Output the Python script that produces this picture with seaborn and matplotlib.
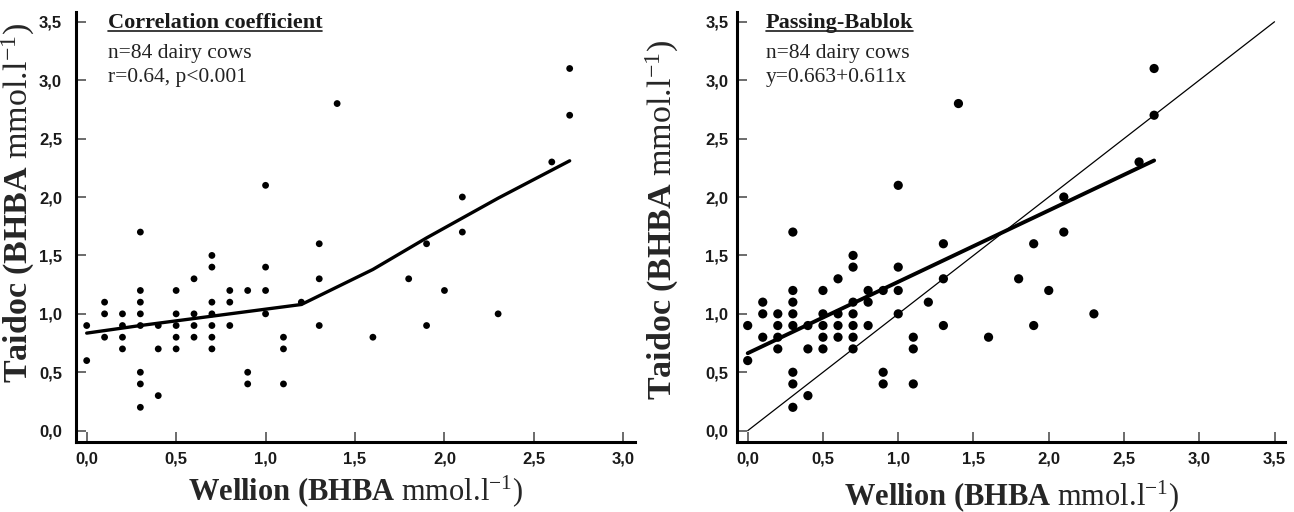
import matplotlib as mpl
import matplotlib.pyplot as plt
import seaborn as sns
from matplotlib.ticker import FuncFormatter, MultipleLocator

# --- data (mmol/l) ---
wellion = [
    0.0, 0.0,
    0.1, 0.1, 0.1,
    0.2, 0.2, 0.2, 0.2,
    0.3, 0.3, 0.3, 0.3, 0.3, 0.3, 0.3, 0.3,
    0.4, 0.4, 0.4,
    0.5, 0.5, 0.5, 0.5, 0.5,
    0.6, 0.6, 0.6, 0.6,
    0.7, 0.7, 0.7, 0.7, 0.7, 0.7, 0.7,
    0.8, 0.8, 0.8,
    0.9, 0.9, 0.9,
    1.0, 1.0, 1.0, 1.0,
    1.1, 1.1, 1.1,
    1.2,
    1.3, 1.3, 1.3,
    1.4, 1.6, 1.8, 1.9, 1.9, 2.0, 2.1, 2.1, 2.3, 2.6, 2.7, 2.7,
]
taidoc = [
    0.9, 0.6,
    1.1, 1.0, 0.8,
    1.0, 0.9, 0.8, 0.7,
    1.7, 1.2, 1.1, 1.0, 0.9, 0.5, 0.4, 0.2,
    0.9, 0.7, 0.3,
    1.2, 1.0, 0.9, 0.8, 0.7,
    1.3, 1.0, 0.9, 0.8,
    1.5, 1.4, 1.1, 1.0, 0.9, 0.8, 0.7,
    1.2, 1.1, 0.9,
    1.2, 0.5, 0.4,
    2.1, 1.4, 1.2, 1.0,
    0.8, 0.7, 0.4,
    1.1,
    1.6, 1.3, 0.9,
    2.8, 0.8, 1.3, 1.6, 0.9, 1.2, 2.0, 1.7, 1.0, 2.3, 2.7, 3.1,
]

# smoothed curve of the left panel
smooth_x = [0.0, 0.3, 0.6, 0.8, 1.0, 1.2, 1.6, 1.9, 2.3, 2.7]
smooth_y = [0.835, 0.90, 0.96, 1.0, 1.04, 1.08, 1.38, 1.65, 1.99, 2.31]

# Passing-Bablok fit and identity line
pb_intercept, pb_slope = 0.663, 0.611
pb_x = [0.0, 2.7]
pb_y = [pb_intercept + pb_slope * v for v in pb_x]
identity = [0.0, 3.5]

left_texts = ["Correlation coefficient", "n=84 dairy cows", "r=0.64, p<0.001"]
right_texts = ["Passing-Bablok", "n=84 dairy cows", "y=0.663+0.611x"]

sns.set_theme(style="ticks")
plt.rcParams.update({
    "font.family": ["Liberation Serif", "DejaVu Serif"],
    "mathtext.fontset": "custom",
    "mathtext.rm": "Liberation Serif",
    "mathtext.bf": "Liberation Serif:bold",
    "mathtext.it": "Liberation Serif:italic",
})

xlabel = r"$\mathbf{Wellion\ (BHBA}$ mmol.l$^{-1}$)"
ylabel = r"$\mathbf{Taidoc\ (BHBA}$ mmol.l$^{-1}$)"

fig = plt.figure(figsize=(12.94, 5.12), dpi=100)
ax1 = fig.add_axes([0.0587, 0.1367, 0.432, 0.8404])
ax2 = fig.add_axes([0.5698, 0.1367, 0.4233, 0.8404])

comma = FuncFormatter(lambda v, p: f"{v:.1f}".replace(".", ","))


def style_axis(ax, ytick_pad):
    for side in ["top", "right"]:
        ax.spines[side].set_visible(False)
    for side in ["left", "bottom"]:
        ax.spines[side].set_linewidth(2.2)
        ax.spines[side].set_color("black")
    ax.set_ylim(-0.097, 3.586)
    ax.xaxis.set_major_locator(MultipleLocator(0.5))
    ax.yaxis.set_major_locator(MultipleLocator(0.5))
    ax.xaxis.set_major_formatter(comma)
    ax.yaxis.set_major_formatter(comma)
    ax.tick_params(direction="in", length=7, width=1.1, color="#444444")
    ax.tick_params(axis="x", pad=6.5)
    ax.tick_params(axis="y", pad=ytick_pad)
    for lab in ax.get_xticklabels() + ax.get_yticklabels():
        lab.set_fontfamily("Liberation Sans")
        lab.set_fontweight("bold")
        lab.set_fontsize(12)
        lab.set_color("#1a1a1a")
    ax.set_xlabel(xlabel, fontsize=22)
    ax.set_ylabel(ylabel, fontsize=24.5)


# --- left panel ---
sns.scatterplot(x=wellion, y=taidoc, ax=ax1, color="black", s=24, edgecolor="none")
sns.lineplot(x=smooth_x, y=smooth_y, ax=ax1, color="black", lw=2.4)
ax1.set_xlim(-0.06, 3.065)
ax1.set_xticks([0, 0.5, 1.0, 1.5, 2.0, 2.5, 3.0])
style_axis(ax1, 10)
ax1.xaxis.set_label_coords(0.5, -0.072)
ax1.yaxis.set_label_coords(-0.07, 0.555)

# --- right panel ---
sns.scatterplot(x=wellion, y=taidoc, ax=ax2, color="black", s=44, edgecolor="none")
sns.lineplot(x=identity, y=identity, ax=ax2, color="black", lw=0.9)
sns.lineplot(x=pb_x, y=pb_y, ax=ax2, color="black", lw=2.8)
ax2.set_xlim(-0.069, 3.57)
style_axis(ax2, 6.5)
ax2.xaxis.set_label_coords(0.5, -0.084)
ax2.yaxis.set_label_coords(-0.103, 0.515)

# --- annotations ---
title_artists = []
for ax, texts, x0 in [(ax1, left_texts, 0.057), (ax2, right_texts, 0.052)]:
    t = ax.text(x0, 0.962, texts[0], transform=ax.transAxes, fontsize=16,
                fontweight="bold", va="baseline", color="#1a1a1a")
    title_artists.append((ax, t))
    ax.text(x0, 0.8936, texts[1], transform=ax.transAxes, fontsize=15.5,
            va="baseline", color="#222222")
    ax.text(x0, 0.8366, texts[2], transform=ax.transAxes, fontsize=15.5,
            va="baseline", color="#222222")

# underline the panel titles
fig.canvas.draw()
for ax, t in title_artists:
    bb = t.get_window_extent().transformed(ax.transAxes.inverted())
    y_line = 0.962 - 3.0 / (0.8404 * 512)
    ax.plot([bb.x0, bb.x1], [y_line, y_line], transform=ax.transAxes,
            color="#1a1a1a", lw=1.2, clip_on=False)

fig.savefig("out.png", dpi=100)
